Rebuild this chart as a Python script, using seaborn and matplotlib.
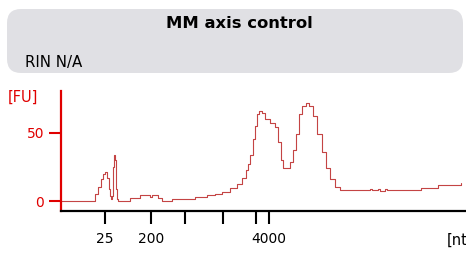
import matplotlib
matplotlib.use("Agg")
import matplotlib.pyplot as plt
from matplotlib.patches import FancyBboxPatch
from matplotlib.transforms import IdentityTransform
import seaborn as sns
import pandas as pd

# electropherogram trace (migration position, fluorescence units)
time = [61, 92, 95, 98, 101, 103, 105, 107, 109, 110, 111, 112, 113, 114, 115, 116, 117, 118,
        128, 130, 137, 140, 147, 150, 152, 155, 158, 162, 170, 172, 193, 195, 205, 207, 215,
        222, 230, 237, 242, 246, 248, 250, 253, 255, 257, 259, 262, 265, 270, 275, 278, 281,
        283, 287, 290, 293, 296, 299, 302, 306, 309, 313, 317, 322, 326, 330, 335, 340, 345,
        368, 370, 372, 378, 380, 385, 387, 420, 421, 437, 438, 460, 461]
fu = [0.0, 0.0, 5, 10, 16, 19.5, 21.2, 17, 9, 4, 1.5, 4, 25, 33.6, 30, 9, 1.5, 0.0,
      0.0, 2.2, 2.2, 4.4, 4.4, 2.9, 4.4, 4.4, 2.2, 0.2, 0.2, 1.5, 1.5, 2.9, 2.9, 4.4, 5,
      6.6, 9.5, 12.4, 16.8, 22.6, 27, 34, 45.5, 55, 63.6, 65.8, 64.5, 60, 57, 54, 43, 30,
      24, 24, 28.5, 37, 49, 63.5, 69.5, 71.7, 69.5, 62, 49, 36, 24, 16, 10.5, 8.2, 8.0,
      8.0, 8.6, 8.0, 8.6, 7.4, 8.6, 8.0, 8.0, 9.5, 9.5, 11.7, 11.7, 13.2]

tick_pos = [105, 151, 185, 223, 256, 269]
tick_labels = ["25", "200", "", "", "", "4000"]
y_ticks = [0, 50]

title = "MM axis control"
rin_text = "RIN N/A"

df = pd.DataFrame({"time": time, "fu": fu})

sns.set_style("white")
plt.rcParams["font.family"] = ["DejaVu Sans"]
plt.rcParams["text.color"] = "black"

fig = plt.figure(figsize=(4.66, 2.54), dpi=100)

# header panel
hdr = FancyBboxPatch((7, 254 - 73), 456, 64, boxstyle="round,pad=0,rounding_size=14",
                     transform=IdentityTransform(), facecolor="#e0e0e4", edgecolor="none")
fig.add_artist(hdr)
fig.text(239, 254 - 24, title, transform=None, ha="center", va="center",
         fontsize=11.8, fontweight="bold")
fig.text(25, 254 - 63, rin_text, transform=None, ha="left", va="center", fontsize=10.8)

ax = fig.add_axes([61 / 466, 43 / 254, 1 - 61 / 466, 120 / 254])
sns.lineplot(data=df, x="time", y="fu", ax=ax, color="#c44444", linewidth=0.8,
             drawstyle="steps-post")
ax.set_xlim(61, 466)
ax.set_ylim(-7.3, 80.5)
ax.set_xlabel("")
ax.set_ylabel("")

for s in ["top", "right"]:
    ax.spines[s].set_visible(False)
ax.spines["left"].set_color("#e00000")
ax.spines["left"].set_linewidth(1.6)
ax.spines["bottom"].set_color("black")
ax.spines["bottom"].set_linewidth(1.6)

ax.set_yticks(y_ticks)
ax.set_yticklabels([str(v) for v in y_ticks])
ax.tick_params(axis="y", left=True, direction="out", colors="#e00000", length=9,
               width=1.5, pad=3, labelsize=10)
ax.set_xticks(tick_pos)
ax.set_xticklabels(tick_labels)
ax.tick_params(axis="x", bottom=True, direction="out", colors="black", length=9,
               width=1.5, pad=6, labelsize=10)
ax.grid(False)

fig.text(8, 254 - 97, "[FU]", transform=None, ha="left", va="center",
         fontsize=10.5, color="#e00000")
fig.text(447, 254 - 240, "[nt]", transform=None, ha="left", va="center",
         fontsize=10.5, color="black")

fig.savefig("out.png", dpi=100)
